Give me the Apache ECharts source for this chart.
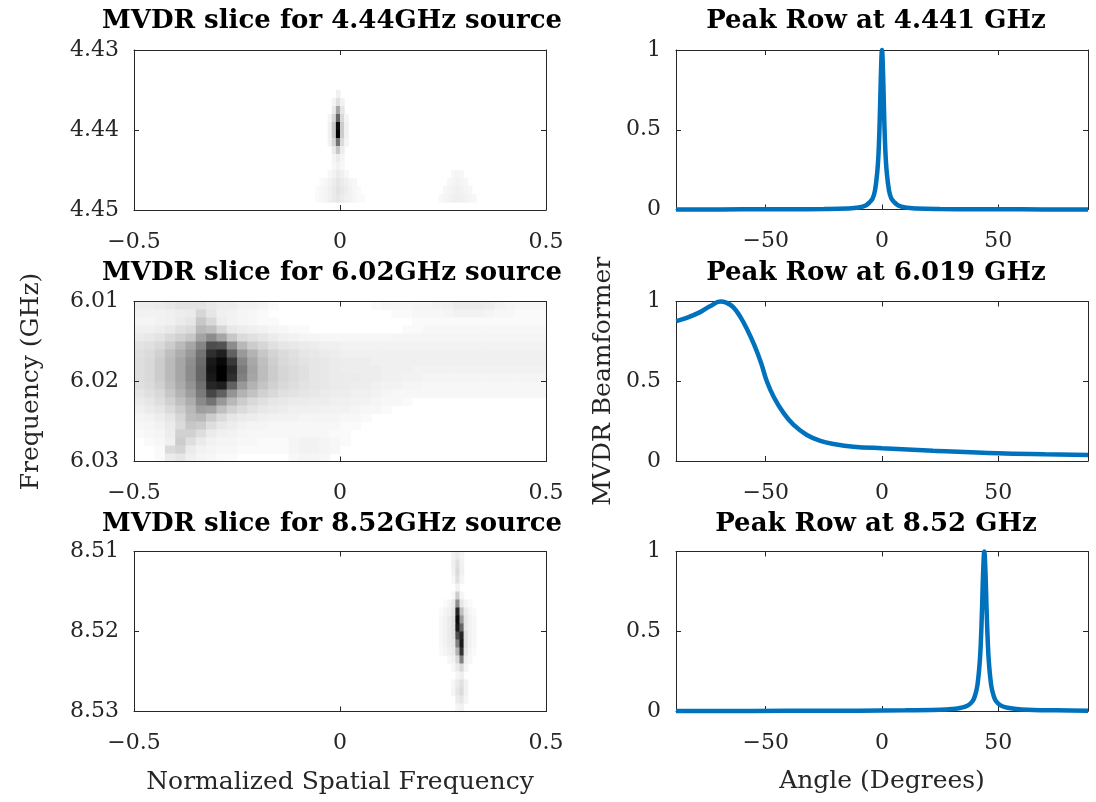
<!DOCTYPE html>
<html>
<head>
<meta charset="utf-8">
<script src="https://cdn.jsdelivr.net/npm/echarts@6/dist/echarts.min.js"></script>
<style>
  html, body { margin: 0; background: #fff; }
  #chart { width: 1096px; height: 802px; }
</style>
</head>
<body>
<div id="chart"></div>
<script>
// ---- data ----
const spatialTicks = [-0.5, 0, 0.5];
const angleTicks = [-50, 0, 50];
const beamTicks = [0, 0.5, 1];
const freqTicks1 = [4.43, 4.44, 4.45];
const freqTicks2 = [6.01, 6.02, 6.03];
const freqTicks3 = [8.51, 8.52, 8.53];

const leftTitles = ['MVDR slice for 4.44GHz source', 'MVDR slice for 6.02GHz source', 'MVDR slice for 8.52GHz source'];
const rightTitles = ['Peak Row at 4.441 GHz', 'Peak Row at 6.019 GHz', 'Peak Row at 8.52 GHz'];

// slice 1: [freq, first spatial freq, intensities 0..100 in steps of 0.01]
const slice1Cells = [
  [4.4355, -0.005, [6]],
  [4.4365, -0.015, [4, 12, 5]],
  [4.4375, -0.015, [8, 35, 10]],
  [4.4385, -0.025, [4, 15, 60, 15, 4]],
  [4.4395, -0.025, [6, 22, 95, 20, 5]],
  [4.4405, -0.025, [6, 22, 100, 20, 5]],
  [4.4415, -0.025, [5, 16, 55, 14, 4]],
  [4.4425, -0.015, [8, 22, 7]],
  [4.4435, -0.015, [4, 8, 4]],
  [4.4445, -0.015, [3, 5, 3]],
  [4.4455, -0.025, [3, 5, 8, 6, 3]],
  [4.4465, -0.045, [2, 3, 5, 7, 10, 8, 6, 4, 3]],
  [4.4475, -0.055, [2, 3, 4, 6, 8, 11, 9, 7, 5, 3, 2]],
  [4.4485, -0.055, [2, 3, 4, 6, 8, 10, 8, 6, 5, 3, 2, 2]],
  [4.4455, 0.275, [3, 4, 3]],
  [4.4465, 0.265, [3, 4, 5, 4, 3]],
  [4.4475, 0.255, [3, 4, 5, 6, 5, 4, 3]],
  [4.4485, 0.245, [3, 4, 5, 6, 6, 6, 5, 4, 3]]
];

// slice 2: 20 rows (6.01 -> 6.03) x 40 columns (-0.5 -> 0.5), intensities 0..100
const slice2Rows = [
  [7,7,8,9,11,11,11,9,7,7,5,5,4,2,0,0,0,0,0,0, 0,0,0,2,3,3,3,4,4,5,6,8,8,8,7,5,4,3,3,3],
  [5,5,5,6,7,8,16,10,6,5,4,3,2,0,0,0,0,0,0,0, 0,0,0,0,0,2,2,3,3,3,4,5,5,5,4,3,3,2,2,2],
  [4,4,5,6,8,10,22,15,7,5,4,3,2,2,0,0,0,0,0,0, 0,0,0,0,0,0,0,2,2,2,2,2,2,2,2,2,2,2,2,2],
  [6,6,7,9,12,14,28,25,16,9,7,6,5,4,3,2,2,0,0,0, 0,0,0,0,0,0,2,2,3,3,3,3,3,3,3,3,3,3,3,3],
  [8,9,11,15,18,22,36,45,35,22,14,12,10,8,6,5,4,4,3,3, 3,3,3,3,3,4,4,4,4,4,4,4,4,4,4,4,4,4,4,4],
  [11,12,15,20,27,35,48,70,68,45,28,20,16,12,10,9,8,7,6,6, 5,5,5,5,5,5,5,5,5,5,5,5,5,5,5,5,5,5,5,5],
  [12,14,18,25,32,40,55,82,88,62,40,30,22,17,14,12,10,9,8,7, 6,6,6,6,6,6,6,6,6,6,6,6,6,6,6,6,6,6,6,6],
  [13,15,20,27,35,44,58,90,97,78,48,34,25,19,15,13,11,10,9,8, 7,7,7,6,6,6,6,6,6,6,6,6,6,6,6,6,6,6,6,6],
  [13,15,20,27,35,45,60,92,100,85,52,36,26,20,16,14,12,10,9,8, 7,7,7,7,6,6,6,5,5,5,5,5,5,5,5,5,5,5,5,5],
  [13,15,20,27,35,45,60,90,100,82,50,35,26,20,16,14,12,10,9,8, 8,8,7,7,6,6,5,5,4,4,4,4,4,4,4,4,4,4,4,4],
  [12,14,18,25,33,42,56,85,88,62,40,30,23,18,15,13,11,10,9,8, 8,7,7,6,5,5,4,4,3,3,3,3,3,3,3,3,3,3,3,3],
  [10,12,15,22,30,38,52,72,62,42,30,24,18,15,12,11,10,9,8,7, 7,6,6,5,4,3,3,3,3,3,3,3,3,3,3,3,3,3,3,3],
  [8,10,13,18,25,32,46,55,40,28,20,15,12,10,9,8,8,7,7,6, 6,5,5,4,3,3,2,0,0,0,0,0,0,0,0,0,0,0,0,0],
  [6,8,10,14,20,28,38,36,25,18,14,11,9,8,7,6,6,6,5,5, 5,4,3,3,2,0,0,0,0,0,0,0,0,0,0,0,0,0,0,0],
  [4,5,7,10,16,26,28,20,14,10,8,7,6,5,5,5,4,4,4,4, 3,3,2,0,0,0,0,0,0,0,0,0,0,0,0,0,0,0,0,0],
  [3,4,5,8,14,22,20,13,9,7,5,4,4,3,3,3,3,3,3,3, 2,2,0,0,0,0,0,0,0,0,0,0,0,0,0,0,0,0,0,0],
  [2,3,4,7,18,18,13,8,6,5,4,3,3,3,3,3,3,3,3,2, 2,0,0,0,0,0,0,0,0,0,0,0,0,0,0,0,0,0,0,0],
  [0,2,3,6,20,13,8,5,4,4,3,3,2,2,2,4,5,5,4,3, 2,0,0,0,0,0,0,0,0,0,0,0,0,0,0,0,0,0,0,0],
  [0,0,2,14,17,8,5,4,3,3,2,2,2,2,2,4,5,5,4,3, 0,0,0,0,0,0,0,0,0,0,0,0,0,0,0,0,0,0,0,0],
  [0,0,2,8,10,6,4,3,2,2,0,0,0,0,0,3,4,4,3,0, 0,0,0,0,0,0,0,0,0,0,0,0,0,0,0,0,0,0,0,0]
];

// slice 3: same layout as slice 1
const slice3Cells = [
  [8.5105, 0.275, [5, 8, 4]],
  [8.5115, 0.275, [6, 12, 5]],
  [8.5125, 0.275, [5, 14, 6]],
  [8.5135, 0.275, [3, 12, 4]],
  [8.5145, 0.285, [5]],
  [8.5155, 0.275, [3, 20, 4]],
  [8.5165, 0.255, [2, 4, 8, 45, 10, 4, 2]],
  [8.5175, 0.245, [2, 4, 6, 10, 85, 25, 8, 4, 2]],
  [8.5185, 0.245, [3, 5, 8, 12, 95, 40, 10, 5, 3]],
  [8.5195, 0.245, [3, 5, 8, 12, 90, 60, 10, 5, 3]],
  [8.5205, 0.245, [3, 5, 8, 12, 70, 85, 12, 5, 3]],
  [8.5215, 0.245, [3, 5, 8, 10, 50, 90, 12, 5, 3]],
  [8.5225, 0.245, [2, 4, 6, 8, 30, 80, 10, 4, 2]],
  [8.5235, 0.265, [3, 5, 15, 50, 6, 3]],
  [8.5245, 0.275, [3, 8, 15, 4]],
  [8.5255, 0.285, [4, 6]],
  [8.5265, 0.275, [3, 8, 12, 5]],
  [8.5275, 0.275, [4, 10, 14, 5]],
  [8.5285, 0.285, [8, 10, 4]],
  [8.5295, 0.285, [4, 5]]
];

// peak rows (angle in degrees, normalised MVDR output)
const peak1Angles = [-88.6, -60, -40, -25, -15, -10, -7, -5, -4, -3, -2, -1.5, -1, -0.5, 0, 0.5, 1, 1.5, 2, 3, 4, 5, 7, 10, 15, 25, 40, 60, 88.6];
const peak1Values = [0, 0.001, 0.002, 0.003, 0.006, 0.012, 0.025, 0.05, 0.07, 0.12, 0.24, 0.35, 0.55, 0.83, 1, 0.83, 0.55, 0.35, 0.24, 0.12, 0.07, 0.05, 0.025, 0.012, 0.006, 0.003, 0.002, 0.001, 0];

const peak2Angles = [-88.5, -84, -78, -74, -69.5, -67, -64, -61, -58, -55, -52, -49.5, -46.5, -42.3, -38, -32.3, -26.5, -20.8, -12.2, 0, 22, 50, 70, 88.6];
const peak2Values = [0.877, 0.897, 0.935, 0.97, 1.0, 0.993, 0.965, 0.905, 0.825, 0.73, 0.615, 0.498, 0.40, 0.30, 0.226, 0.163, 0.126, 0.107, 0.09, 0.08, 0.065, 0.048, 0.042, 0.038];

const peak3Angles = [-88.6, -40, -10, 10, 25, 30, 34, 37, 39, 40, 41, 42, 42.5, 43, 43.5, 44, 44.5, 45, 45.5, 46, 47, 48, 49, 51, 54, 60, 75, 88.6];
const peak3Values = [0, 0.001, 0.002, 0.004, 0.008, 0.012, 0.02, 0.035, 0.063, 0.096, 0.158, 0.30, 0.43, 0.63, 0.87, 1, 0.87, 0.63, 0.43, 0.30, 0.158, 0.096, 0.063, 0.035, 0.02, 0.01, 0.004, 0.002];

// ---- helpers ----
const axisColor = '#262626';
const serif = 'DejaVu Serif';
const lineBlue = '#0072BD';

function tickText(v) {
  if (v === 0) return '0';
  return String(v).replace('-', '\u2212');
}

function segmentsToCells(segs, du) {
  const out = [];
  segs.forEach(([f, u0, vals]) => {
    vals.forEach((v, k) => out.push([+(u0 + k * du).toFixed(4), f, v]));
  });
  return out;
}

function gridToCells(rows, uMin, du, fMin, df) {
  const out = [];
  rows.forEach((row, i) => {
    row.forEach((v, j) => {
      if (v > 0) out.push([uMin + du * (j + 0.5), fMin + df * (i + 0.5), v]);
    });
  });
  return out;
}

function cellRenderer(du, df) {
  return function (params, api) {
    const u = api.value(0), f = api.value(1), v = api.value(2);
    const a = api.coord([u - du / 2, f - df / 2]);
    const b = api.coord([u + du / 2, f + df / 2]);
    const g = Math.round(255 * (1 - v / 100));
    return {
      type: 'rect',
      shape: {
        x: Math.min(a[0], b[0]),
        y: Math.min(a[1], b[1]),
        width: Math.abs(b[0] - a[0]) + 0.6,
        height: Math.abs(b[1] - a[1]) + 0.6
      },
      style: { fill: 'rgb(' + g + ',' + g + ',' + g + ')' }
    };
  };
}

function makeAxisPair(dim, grid, min, max, ticks, opts) {
  opts = opts || {};
  const main = dim === 'x' ? 'bottom' : 'left';
  const other = dim === 'x' ? 'top' : 'right';
  const base = {
    type: 'value', gridIndex: grid, min: min, max: max, z: 5,
    inverse: !!opts.inverse,
    axisLine: { show: true, onZero: false, lineStyle: { color: axisColor, width: 1 } },
    axisTick: { show: true, inside: true, length: 5, customValues: ticks, lineStyle: { color: axisColor } },
    splitLine: { show: false }
  };
  const first = Object.assign({}, base, {
    position: main,
    axisLabel: {
      customValues: ticks, formatter: opts.fmt || tickText,
      margin: dim === 'x' ? 21 : 15, color: axisColor, fontFamily: serif, fontSize: 22
    }
  });
  if (opts.name) {
    Object.assign(first, {
      name: opts.name, nameLocation: 'middle', nameGap: opts.nameGap,
      nameTextStyle: { color: axisColor, fontFamily: serif, fontSize: 25 }
    });
  }
  const second = Object.assign({}, base, { position: other, axisLabel: { show: false } });
  return [first, second];
}

// ---- layout ----
const leftX = 134, rightX = 676, plotW = 412, plotH = 160;
const rowTops = [50, 301.5, 551.5];

const grids = [];
rowTops.forEach(t => grids.push({ left: leftX, top: t, width: plotW, height: plotH }));
rowTops.forEach(t => grids.push({ left: rightX, top: t, width: plotW, height: plotH - 0.5 }));

const freqTickSets = [freqTicks1, freqTicks2, freqTicks3];
const xAxes = [], yAxes = [], series = [];

const heatCells = [
  { data: segmentsToCells(slice1Cells, 0.01), du: 0.01 },
  { data: gridToCells(slice2Rows, -0.5, 0.025, 6.01, 0.001), du: 0.025 },
  { data: segmentsToCells(slice3Cells, 0.01), du: 0.01 }
];

for (let r = 0; r < 3; r++) {
  const ft = freqTickSets[r];
  xAxes.push(...makeAxisPair('x', r, -0.5, 0.5, spatialTicks,
    r === 2 ? { name: 'Normalized Spatial Frequency', nameGap: 58 } : {}));
  yAxes.push(...makeAxisPair('y', r, ft[0], ft[2], ft, Object.assign(
    { inverse: true, fmt: v => v.toFixed(2) },
    r === 1 ? { name: 'Frequency (GHz)', nameGap: 90 } : {})));
  series.push({
    type: 'custom', xAxisIndex: 2 * r, yAxisIndex: 2 * r, clip: true, silent: true,
    renderItem: cellRenderer(heatCells[r].du, 0.001),
    encode: { x: 0, y: 1 },
    data: heatCells[r].data
  });
}

const peakSets = [[peak1Angles, peak1Values], [peak2Angles, peak2Values], [peak3Angles, peak3Values]];
for (let r = 0; r < 3; r++) {
  const g = 3 + r;
  xAxes.push(...makeAxisPair('x', g, -88.6, 88.6, angleTicks,
    r === 2 ? { name: 'Angle (Degrees)', nameGap: 58 } : {}));
  yAxes.push(...makeAxisPair('y', g, 0, 1, beamTicks,
    r === 1 ? { name: 'MVDR Beamformer', nameGap: 60 } : {}));
  const [ang, val] = peakSets[r];
  series.push({
    type: 'line', xAxisIndex: 2 * g, yAxisIndex: 2 * g, z: 6,
    showSymbol: false, clip: false, smooth: 0.4,
    lineStyle: { color: lineBlue, width: 4.5 },
    data: ang.map((a, i) => [a, val[i]])
  });
}

const titleY = [21, 273, 524];
const graphics = [];
for (let r = 0; r < 3; r++) {
  [[332, leftTitles[r]], [876, rightTitles[r]]].forEach(([x, text]) => {
    graphics.push({
      type: 'text', x: x, y: titleY[r],
      style: {
        text: text, fill: '#000', font: 'bold 26px "DejaVu Serif"',
        textAlign: 'center', textVerticalAlign: 'middle'
      }
    });
  });
}

const chart = echarts.init(document.getElementById('chart'));
chart.setOption({
  animation: false,
  backgroundColor: '#fff',
  grid: grids,
  xAxis: xAxes,
  yAxis: yAxes,
  series: series,
  graphic: graphics
});
</script>
</body>
</html>
